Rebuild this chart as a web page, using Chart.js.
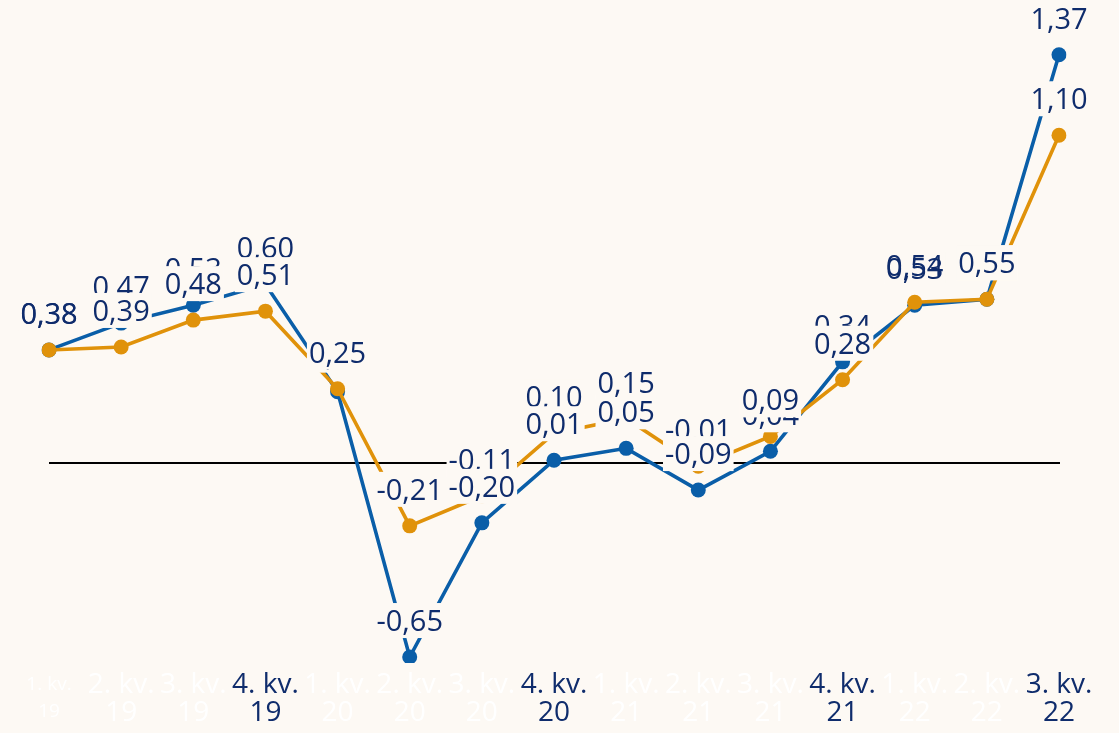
<!DOCTYPE html>
<html>
<head>
<meta charset="utf-8">
<script src="https://cdn.jsdelivr.net/npm/chart.js@4/dist/chart.umd.min.js"></script>
<style>
  html, body { margin: 0; padding: 0; background: #fdf9f4; }
  #wrap { width: 1119px; height: 733px; position: relative; }
</style>
</head>
<body>
<div id="wrap"><canvas id="kvChart"></canvas></div>
<script>
const quarters = [
  ['1. kv.', '19'], ['2. kv.', '19'], ['3. kv.', '19'], ['4. kv.', '19'],
  ['1. kv.', '20'], ['2. kv.', '20'], ['3. kv.', '20'], ['4. kv.', '20'],
  ['1. kv.', '21'], ['2. kv.', '21'], ['3. kv.', '21'], ['4. kv.', '21'],
  ['1. kv.', '22'], ['2. kv.', '22'], ['3. kv.', '22']
];
const blueValues = [0.38, 0.47, 0.53, 0.60, 0.24, -0.65, -0.20, 0.01, 0.05, -0.09, 0.04, 0.34, 0.53, 0.55, 1.37];
const orangeValues = [0.38, 0.39, 0.48, 0.51, 0.25, -0.21, -0.11, 0.10, 0.15, -0.01, 0.09, 0.28, 0.54, 0.55, 1.10];

// quarters whose tick label is shown in dark text
const shownTicks = [3, 7, 11, 14];
// quarters where the blue label sits on top of the orange one
const blueOnTop = [6, 7, 9];
// quarters where both labels print over each other
const overprinted = [0, 12];

const BG = '#fdf9f4';
const NAVY = '#0f2c6c';
const BLUE = '#0a5ea8';
const ORANGE = '#e0920a';

const fmt = v => v.toFixed(2).replace('.', ',');

// black line at zero
const zeroLine = {
  id: 'zeroLine',
  beforeDatasetsDraw(chart) {
    const { ctx, chartArea, scales } = chart;
    const y = Math.round(scales.y.getPixelForValue(0));
    ctx.save();
    ctx.strokeStyle = '#000';
    ctx.lineWidth = 2;
    ctx.beginPath();
    ctx.moveTo(chartArea.left, y);
    ctx.lineTo(chartArea.right + 1, y);
    ctx.stroke();
    ctx.restore();
  }
};

// value labels above each point, boxed in the background colour
const valueLabels = {
  id: 'valueLabels',
  afterDatasetsDraw(chart) {
    const { ctx } = chart;
    ctx.save();
    ctx.font = '29px "Open Sans"';
    ctx.textAlign = 'center';
    ctx.textBaseline = 'alphabetic';
    const place = (dsIndex, i) => {
      const pt = chart.getDatasetMeta(dsIndex).data[i];
      const text = fmt(chart.data.datasets[dsIndex].data[i]);
      return { x: pt.x, base: pt.y - 26, text, w: ctx.measureText(text).width };
    };
    const box = l => {
      ctx.fillStyle = BG;
      ctx.fillRect(l.x - l.w / 2 - 2, l.base - 28, l.w + 4, 35);
    };
    const text = l => {
      ctx.fillStyle = NAVY;
      ctx.fillText(l.text, l.x, l.base);
    };
    for (let i = 0; i < quarters.length; i++) {
      const order = blueOnTop.includes(i) ? [1, 0] : [0, 1];
      const labels = order.map(d => place(d, i));
      if (overprinted.includes(i)) {
        labels.forEach(box);
        labels.forEach(text);
      } else {
        labels.forEach(l => { box(l); text(l); });
      }
    }
    ctx.restore();
  }
};

new Chart(document.getElementById('kvChart'), {
  type: 'line',
  data: {
    labels: quarters,
    datasets: [
      {
        data: blueValues,
        borderColor: BLUE,
        backgroundColor: BLUE,
        borderWidth: 3.6,
        pointRadius: 7.5,
        pointBorderWidth: 0,
        pointHoverRadius: 7.5,
        order: 1
      },
      {
        data: orangeValues,
        borderColor: ORANGE,
        backgroundColor: ORANGE,
        borderWidth: 3.6,
        pointRadius: 7.5,
        pointBorderWidth: 0,
        pointHoverRadius: 7.5,
        order: 0
      }
    ]
  },
  options: {
    responsive: true,
    maintainAspectRatio: false,
    animation: false,
    layout: { padding: { left: 49, right: 60, top: 16, bottom: 6 } },
    plugins: { legend: { display: false }, tooltip: { enabled: false } },
    scales: {
      x: {
        offset: false,
        grid: { display: false },
        border: { display: false },
        ticks: {
          autoSkip: false,
          maxRotation: 0,
          minRotation: 0,
          padding: 0,
          color: ctx => shownTicks.includes(ctx.index) ? NAVY : '#ffffff',
          font: ctx => ctx.index === 0
            ? { family: 'Open Sans', size: 19, lineHeight: 1.42 }
            : { family: 'Open Sans', size: 28, lineHeight: 1.0 }
        }
      },
      y: {
        display: false,
        min: -0.67,
        max: 1.5
      }
    }
  },
  plugins: [zeroLine, valueLabels]
});
</script>
</body>
</html>
